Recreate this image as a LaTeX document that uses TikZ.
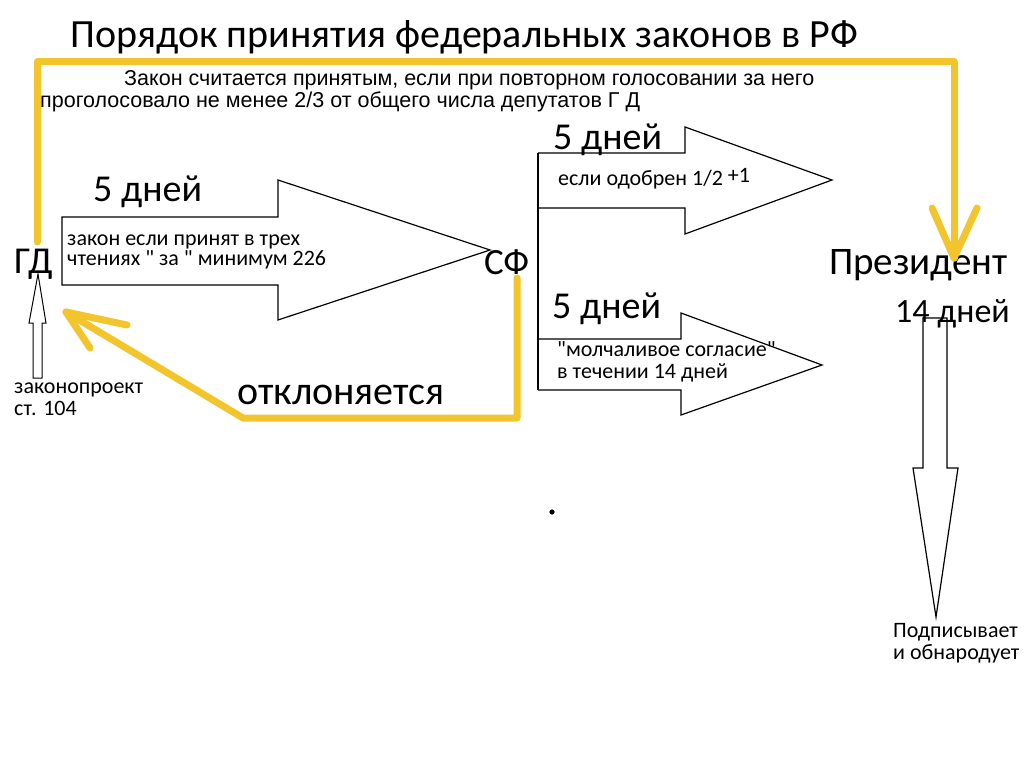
\documentclass[tikz,border=0pt]{standalone}
\usepackage{fontspec}
\setmainfont{Carlito}[Ligatures=TeXOff]
\newfontfamily\notefont{Liberation Sans}
\definecolor{gold}{RGB}{242,197,44}
\tikzset{
  yel/.style={draw=gold, line width=7pt, line join=round, line cap=round},
  blk/.style={draw=black, line width=1.2pt, line join=miter},
  lbl/.style={inner sep=0pt, anchor=base west},
  ttl/.style={lbl, font=\fontsize{40}{44}\selectfont},
  huge/.style={lbl, font=\fontsize{38}{42}\selectfont},
  big/.style={lbl, font=\fontsize{38}{42}\selectfont},
  small/.style={lbl, font=\fontsize{22}{26}\selectfont},
  note/.style={lbl, font=\notefont\fontsize{21.5}{24}\selectfont},
}
\begin{document}
\begin{tikzpicture}[x=1pt,y=-1pt]
\fill[white] (0,0) rectangle (1024,767);
\useasboundingbox (0,0) rectangle (1024,767);

% title and note
\node[ttl] (title) at (70,48) {Порядок принятия федеральных законов в РФ};
\node[note] (note1) at (124,86) {Закон считается принятым, если при повторном голосовании за него};
\node[note] (note2) at (40,108) {проголосовало не менее 2/3 от общего числа депутатов Г Д};

% main labels
\node[big] (gd) at (14,273) {ГД};
\node[big, font=\fontsize{37}{40}\selectfont] (sf) at (484,274) {СФ};
\node[big, font=\fontsize{39}{42}\selectfont] (pres) at (829,274) {Президент};
\node[big, font=\fontsize{34}{38}\selectfont] (d14) at (895,322) {14 дней};

% block arrow GD -> SF
\draw[blk] (62,217) -- (278,217) -- (278,180) -- (490,250) -- (278,320) -- (278,285) -- (62,285) -- cycle;
\node[huge] (d5a) at (93,202) {5 дней};
\node[small] (t1a) at (67,245) {закон если принят в трех};
\node[small] (t1b) at (67,265) {чтениях " за " минимум 226};

% small up arrow (bill)
\draw[blk, line width=1pt] (33,378) -- (33,323) -- (29,323) -- (38,274) -- (46,323) -- (42,323) -- (42,378) -- cycle;
\node[small] (bill1) at (14,393) {законопроект};
\node[small] (bill2) at (14,415) {ст. 104};

% branches from SF
\draw[blk] (538,153) -- (538,390);
\draw[blk] (538,153) -- (685,153) -- (685,127) -- (832,180) -- (685,234) -- (685,208) -- (538,208);
\draw[blk] (538,339) -- (681,339) -- (681,313) -- (822,365) -- (681,415) -- (681,390) -- (538,390);
\node[huge] (d5b) at (553,150) {5 дней};
\node[small] (t2) at (558,186) {если одобрен 1/2 \raisebox{3pt}{+1}};
\node[huge] (d5c) at (552,318) {5 дней};
\node[small] (t3a) at (557,356) {"молчаливое согласие"};
\node[small] (t3b) at (557,378) {в течении 14 дней};

% president down arrow
\draw[blk] (923,318) -- (947,318) -- (947,468) -- (958,468) -- (936,617) -- (913,468) -- (923,468) -- cycle;
\node[small] (sign1) at (893,637) {Подписывает};
\node[small] (sign2) at (893,659) {и обнародует};

% yellow repeated-vote connector GD -> President
\coordinate (gdtop) at (37,242);
\coordinate (corner) at (954,62);
\coordinate (ptip) at (954,258);
\coordinate (pwl) at (932,208);
\coordinate (pwr) at (977,208);
\draw[yel] (gdtop) |- (corner) -- (ptip);
\draw[yel] (pwl) -- (ptip) -- (pwr);

% yellow rejection connector SF -> GD
\coordinate (sfbot) at (517,278);
\coordinate (bend) at (243,418);
\coordinate (gtip) at (66,312);
\coordinate (gwa) at (127,325);
\coordinate (gwb) at (90,348);
\draw[yel] (sfbot) |- (bend) -- (gtip);
\draw[yel] (gwa) -- (gtip) -- (gwb);
\node[huge, font=\fontsize{40}{44}\selectfont] (rej) at (237,404) {отклоняется};

% dot
\fill (552,512) circle (2.6);
\end{tikzpicture}
\end{document}
